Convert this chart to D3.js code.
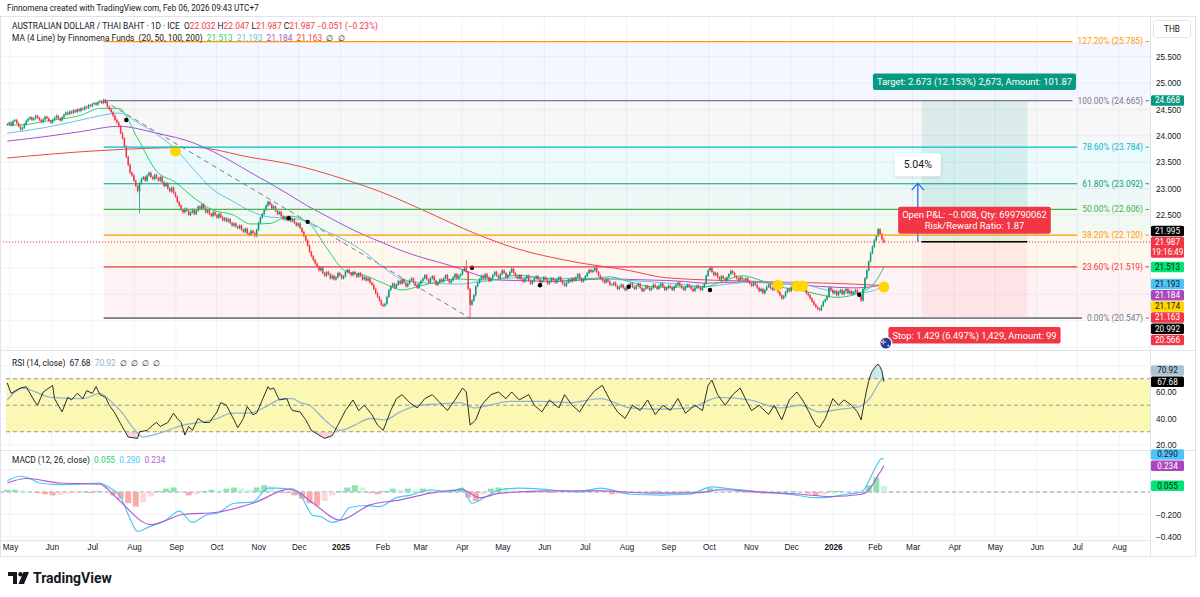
<!DOCTYPE html>
<html>
<head>
<meta charset="utf-8">
<script src="https://cdn.jsdelivr.net/npm/d3@7"></script>
<style>
  body { margin: 0; background: #fff; }
  svg { display: block; font-family: Roboto, 'Liberation Sans', sans-serif; }
</style>
</head>
<body>
<svg id="chart" width="1200" height="597"></svg>
<script>
// daily closes, one per trading day from Mon 29 Apr 2024 (bar 0) to Fri 6 Feb 2026 (bar 464)
const closes1 = [
  24.22, 24.25, 24.20, 24.28, 24.30, 24.24, 24.18, 24.12, 24.15, 24.22,
  24.28, 24.32, 24.35, 24.30, 24.33, 24.38, 24.34, 24.30, 24.26, 24.31,
  24.36, 24.33, 24.28, 24.25, 24.30, 24.34, 24.38, 24.33, 24.29, 24.35,
  24.40, 24.44, 24.41, 24.46, 24.43, 24.48, 24.45, 24.50, 24.47, 24.52,
  24.50, 24.55, 24.53, 24.58, 24.56, 24.60, 24.62, 24.59, 24.64, 24.66,
  24.62, 24.68, 24.63, 24.55, 24.50, 24.45, 24.38, 24.30, 24.25, 24.18,
  24.05, 23.95, 23.80, 23.60, 23.45, 23.30, 23.25, 23.15, 23.05, 22.95,
  23.10, 23.18, 23.22, 23.15, 23.25, 23.30, 23.22, 23.18, 23.26, 23.20,
  23.15, 23.22, 23.12, 23.05, 23.10, 23.00, 22.95, 23.02, 22.92, 22.85,
  22.75, 22.68, 22.60, 22.55, 22.62, 22.58, 22.50, 22.55, 22.60, 22.52,
  22.58, 22.66, 22.62, 22.70, 22.63, 22.55, 22.60, 22.52, 22.48, 22.55,
  22.50, 22.45, 22.52, 22.46, 22.40, 22.44, 22.38, 22.42, 22.35, 22.30,
  22.34, 22.28, 22.25, 22.30, 22.22, 22.18, 22.24, 22.15, 22.12, 22.20,
  22.16, 22.10, 22.22, 22.35, 22.45, 22.52, 22.60, 22.68, 22.75, 22.70,
  22.62, 22.66, 22.58, 22.52, 22.56, 22.48, 22.42, 22.46, 22.40, 22.45
]
const closes2 = [
  22.38, 22.42, 22.35, 22.30, 22.34, 22.25, 22.18, 22.10, 22.02, 21.92,
  21.80, 21.72, 21.65, 21.58, 21.52, 21.45, 21.50, 21.40, 21.35, 21.42,
  21.38, 21.30, 21.35, 21.28, 21.32, 21.40, 21.36, 21.30, 21.34, 21.42,
  21.46, 21.40, 21.36, 21.42, 21.38, 21.33, 21.40, 21.35, 21.28, 21.32,
  21.26, 21.30, 21.22, 21.18, 21.10, 21.02, 20.95, 20.88, 20.80, 20.78,
  20.82, 20.95, 21.08, 21.15, 21.20, 21.12, 21.18, 21.25, 21.20, 21.28,
  21.22, 21.15, 21.20, 21.26, 21.30, 21.22, 21.18, 21.12, 21.20, 21.25,
  21.30, 21.36, 21.28, 21.22, 21.30, 21.34, 21.26, 21.18, 21.22, 21.28,
  21.24, 21.30, 21.36, 21.28, 21.22, 21.26, 21.32, 21.38, 21.30, 21.35,
  21.38, 21.45, 21.50, 21.42, 21.10, 20.80, 20.88, 20.98, 21.15, 21.22,
  21.28, 21.35, 21.30, 21.38, 21.32, 21.25, 21.30, 21.36, 21.42, 21.35,
  21.30, 21.38, 21.45, 21.40, 21.32, 21.36, 21.42, 21.48, 21.40, 21.34,
  21.30, 21.36, 21.28, 21.24, 21.30, 21.35, 21.26, 21.20, 21.25, 21.30,
  21.34, 21.28, 21.22, 21.26, 21.32, 21.28, 21.20, 21.24, 21.30, 21.26,
  21.22, 21.28, 21.32, 21.25, 21.20, 21.16, 21.22, 21.28, 21.24, 21.30
]
const closes3 = [
  21.26, 21.32, 21.38, 21.30, 21.24, 21.28, 21.34, 21.40, 21.46, 21.42,
  21.45, 21.50, 21.42, 21.35, 21.30, 21.26, 21.22, 21.28, 21.24, 21.18,
  21.18, 21.22, 21.16, 21.10, 21.14, 21.18, 21.12, 21.08, 21.14, 21.18,
  21.20, 21.14, 21.10, 21.16, 21.20, 21.12, 21.06, 21.10, 21.16, 21.12,
  21.08, 21.12, 21.18, 21.14, 21.10, 21.16, 21.20, 21.14, 21.08, 21.12,
  21.16, 21.12, 21.08, 21.14, 21.18, 21.22, 21.16, 21.12, 21.08, 21.14,
  21.18, 21.14, 21.10, 21.06, 21.12, 21.16, 21.12, 21.08, 21.14, 21.20,
  21.35, 21.45, 21.50, 21.42, 21.36, 21.40, 21.32, 21.28, 21.34, 21.30,
  21.26, 21.32, 21.38, 21.44, 21.40, 21.34, 21.30, 21.26, 21.32, 21.28,
  21.26, 21.30, 21.24, 21.20, 21.16, 21.22, 21.18, 21.12, 21.06, 21.10,
  21.02, 21.08, 21.14, 21.18, 21.12, 21.08, 21.14, 21.10, 21.04, 20.98,
  20.92, 20.96, 21.04, 21.10, 21.06, 21.14, 21.20, 21.12, 21.16, 21.08,
  21.12, 21.18, 21.10, 21.02, 20.98, 20.92, 20.86, 20.80, 20.76, 20.72,
  20.70, 20.78, 20.86, 20.90, 20.96, 21.12, 21.08, 21.02, 21.06, 20.98,
  21.04, 21.08, 21.00, 21.06, 21.10, 21.02, 21.06, 21.00, 21.04, 21.08,
  21.02, 20.96, 20.88, 21.10, 21.30, 21.45, 21.62, 21.78, 21.90, 22.02,
  22.10, 22.23, 22.14, 22.04, 21.987
]
const lastBar = { open: 22.032, high: 22.047, low: 21.987, close: 21.987 }
// [bar, price] of the long wicks
const wickExtremes = [[70, 22.55], [243, 21.62], [245, 20.547]]

// moving averages, [bar, value]
const ma20Points = [[0, 24.20], [9, 24.21], [19, 24.27], [29, 24.32], [39, 24.39], [49, 24.52], [59, 24.52], [69, 23.95], [79, 23.33], [89, 23.12], [99, 22.82], [109, 22.59], [119, 22.51], [129, 22.33], [139, 22.34], [149, 22.48], [159, 22.37], [169, 21.88], [179, 21.44], [189, 21.36], [199, 21.21], [209, 21.08], [219, 21.16], [229, 21.24], [239, 21.29], [249, 21.27], [259, 21.28], [269, 21.36], [279, 21.33], [289, 21.28], [299, 21.26], [309, 21.29], [319, 21.33], [329, 21.24], [339, 21.15], [349, 21.13], [359, 21.14], [369, 21.14], [379, 21.25], [389, 21.35], [399, 21.26], [409, 21.14], [419, 21.08], [429, 21.00], [439, 20.94], [449, 21.00], [459, 21.21], [464, 21.513]]
const ma50Points = [[0, 24.05], [19, 24.15], [39, 24.30], [49, 24.38], [59, 24.43], [69, 24.25], [79, 24.03], [89, 23.75], [99, 23.35], [109, 22.98], [119, 22.77], [129, 22.57], [139, 22.46], [149, 22.44], [159, 22.37], [169, 22.19], [179, 22.02], [189, 21.80], [199, 21.51], [209, 21.28], [219, 21.22], [229, 21.20], [239, 21.19], [249, 21.23], [259, 21.27], [269, 21.31], [279, 21.31], [289, 21.30], [299, 21.30], [309, 21.30], [319, 21.29], [329, 21.26], [339, 21.24], [349, 21.21], [359, 21.18], [369, 21.14], [379, 21.18], [389, 21.22], [399, 21.23], [409, 21.22], [419, 21.21], [429, 21.12], [439, 21.04], [449, 21.02], [459, 21.07], [464, 21.193]]
const ma100Points = [[0, 23.90], [19, 23.98], [39, 24.08], [59, 24.18], [79, 24.05], [99, 23.86], [109, 23.70], [119, 23.51], [129, 23.30], [139, 23.10], [149, 22.89], [159, 22.67], [169, 22.48], [179, 22.29], [189, 22.12], [199, 21.97], [209, 21.82], [219, 21.70], [229, 21.60], [239, 21.49], [249, 21.36], [259, 21.27], [269, 21.26], [279, 21.25], [289, 21.24], [299, 21.26], [309, 21.28], [319, 21.29], [329, 21.28], [339, 21.27], [349, 21.26], [359, 21.24], [369, 21.21], [379, 21.22], [389, 21.23], [399, 21.22], [409, 21.20], [419, 21.18], [429, 21.15], [439, 21.13], [449, 21.12], [459, 21.15], [464, 21.184]]
const ma200Points = [[0, 23.58], [49, 23.72], [99, 23.78], [129, 23.59], [149, 23.47], [179, 23.17], [199, 22.92], [219, 22.61], [249, 22.13], [269, 21.87], [299, 21.62], [329, 21.45], [349, 21.31], [399, 21.24], [449, 21.19], [464, 21.163]]
const maColors = ['#1fd36a', '#5ec4ef', '#a652cf', '#f0463c']
const maLegend = [21.513, 21.193, 21.184, 21.163]

const blackDots = [[63, 24.30], [149, 22.44], [159, 22.37], [246, 21.50], [282, 21.17], [329, 21.14], [372, 21.08], [451, 20.99]]
const yellowDots = [[89, 23.71], [408, 21.17], [418, 21.155], [421, 21.155], [464, 21.136]]

// fibonacci retracement
const fibStartBar = 51
const fibLevels = [1.272, 1, 0.786, 0.618, 0.5, 0.382, 0.236, 0]
const fibPrices = [25.785, 24.665, 23.784, 23.092, 22.606, 22.120, 21.519, 20.547]
const fibColors = ['#ff9800', '#787b86', '#00bcd4', '#089981', '#4caf50', '#ff9800', '#f23645', '#787b86']
const fibFills = ['rgba(41,98,255,0.05)', 'rgba(120,123,134,0.06)', 'rgba(0,188,212,0.07)', 'rgba(8,153,129,0.07)', 'rgba(76,175,80,0.07)', 'rgba(255,152,0,0.07)', 'rgba(242,54,69,0.06)']
const trendLine = [[51, 24.665], [245, 20.547]]

// long position tool
const position = { startBar: 484, endBar: 540, entry: 21.995, target: 24.668, stop: 20.566 }
const projection = { bar: 482, from: 21.995, to: 23.103, text: '5.04%' }
const targetText = 'Target: 2.673 (12.153%) 2,673, Amount: 101.87'
const stopText = 'Stop: 1.429 (6.497%) 1,429, Amount: 99'
const pnlText = ['Open P&L: −0.008, Qty: 699790062', 'Risk/Reward Ratio: 1.87']

// RSI [bar, value]
const rsiPoints = [[0, 66.8], [2, 59], [7, 63], [10, 64], [14, 54], [16, 50], [19, 60], [24, 65], [25, 55], [29, 45], [32, 56], [34, 54], [37, 59], [40, 55], [42, 61], [45, 59], [47, 64], [49, 58], [52, 56], [54, 50], [57, 44], [60, 36], [62, 31], [64, 26], [69, 25], [70, 30], [74, 31], [77, 35], [79, 37], [81, 34], [85, 37], [88, 44], [90, 40], [92, 37], [94, 27.5], [96, 34], [98, 31], [101, 40], [104, 37], [107, 37], [111, 45], [113, 52], [116, 50], [120, 39], [122, 33], [125, 40], [127, 49], [130, 43], [132, 44], [135, 54], [138, 64], [139, 62], [141, 63], [144, 54], [148, 55], [150, 48], [151, 46], [155, 45], [158, 39], [161, 31], [165, 27.5], [168, 25], [172, 27], [175, 35], [179, 46], [183, 54], [186, 46], [189, 50], [193, 43], [196, 35], [199, 31], [203, 46], [206, 55], [209, 58], [213, 52], [217, 48], [221, 55], [225, 58], [229, 52], [233, 46], [237, 54], [241, 63], [243, 60], [245, 35], [248, 39], [251, 50], [256, 58], [260, 60], [264, 55], [267, 60], [271, 54], [276, 58], [279, 50], [283, 45], [287, 54], [292, 48], [295, 58], [299, 50], [303, 45], [307, 54], [311, 61], [315, 65], [319, 54], [323, 45], [327, 40], [331, 50], [335, 46], [339, 54], [343, 43], [347, 50], [351, 46], [355, 55], [359, 44], [364, 50], [368, 46], [371, 65], [373, 69], [376, 58], [380, 50], [384, 58], [388, 63], [391, 54], [394, 46], [398, 50], [403, 43], [406, 50], [410, 39], [414, 54], [418, 60], [421, 54], [424, 46], [428, 35], [430, 33], [433, 40], [437, 55], [440, 50], [443, 54], [447, 50], [450, 45], [452, 39], [454, 55], [455, 62], [456, 68], [457, 73], [458, 76], [459, 78], [460, 80], [461, 81], [462, 79], [463, 76], [464, 67.68]]
const rsiMaPoints = [[0, 54], [8, 63], [23, 56], [40, 55], [49, 59], [54, 54], [61, 44], [66, 34], [72, 26], [77, 27.5], [85, 31], [93, 35], [102, 37], [111, 40], [119, 44], [128, 44], [137, 49], [146, 55], [151, 55], [155, 52], [160, 50], [168, 39], [176, 31], [184, 35], [192, 40], [200, 39], [208, 45], [218, 50], [229, 51], [240, 52], [247, 48], [255, 50], [266, 53], [282, 53], [298, 52], [314, 55], [330, 48], [345, 47], [361, 48], [377, 56], [393, 54], [409, 48], [420, 50], [430, 45], [441, 47], [451, 49], [457, 56], [462, 68], [464, 70.92]]
const rsiTicks = [20, 40, 60, 80]
const rsiBandLevels = [70, 50, 30]

// MACD [bar, value]
const macdPoints = [[0, 0.10], [7, 0.14], [12, 0.12], [17, 0.08], [28, 0.065], [38, 0.07], [49, 0.08], [54, 0.04], [60, -0.045], [64, -0.20], [69, -0.35], [75, -0.31], [84, -0.25], [91, -0.17], [98, -0.27], [106, -0.20], [111, -0.19], [120, -0.10], [130, -0.09], [138, 0.035], [143, 0.035], [150, 0.02], [155, -0.027], [162, -0.21], [166, -0.22], [172, -0.27], [176, -0.25], [181, -0.14], [190, -0.12], [197, -0.13], [206, -0.05], [213, -0.03], [224, 0.02], [234, 0.0], [241, 0.035], [246, -0.10], [253, -0.045], [261, 0.02], [271, 0.035], [287, 0.02], [303, 0.0], [314, 0.035], [330, -0.02], [346, -0.027], [361, -0.02], [373, 0.045], [383, 0.027], [399, 0.0], [414, -0.02], [428, -0.05], [436, -0.045], [444, -0.02], [452, 0.0], [455, 0.06], [457, 0.13], [459, 0.2], [461, 0.26], [463, 0.3], [464, 0.29]]
const signalPoints = [[0, 0.08], [10, 0.12], [28, 0.08], [49, 0.07], [58, -0.055], [76, -0.29], [93, -0.20], [111, -0.18], [130, -0.10], [150, 0.027], [162, -0.10], [176, -0.25], [192, -0.115], [208, -0.07], [224, -0.01], [241, 0.02], [250, -0.05], [261, -0.01], [287, 0.01], [314, 0.01], [340, -0.01], [367, -0.005], [377, 0.02], [399, 0.0], [420, -0.02], [436, -0.04], [452, -0.02], [455, 0.0], [457, 0.04], [459, 0.09], [461, 0.15], [463, 0.2], [464, 0.234]]
// histogram, one value every 4 bars from bar 0
const histStep = 4
const macdHist = [
  0.02, 0.02, 0.015, 0.005, -0.01, -0.02, -0.03, -0.025, -0.015, -0.01,
  0.005, -0.01, 0.01, 0.005, -0.03, -0.06, -0.10, -0.13, -0.09, -0.04,
  0.01, 0.03, 0.04, 0.01, -0.03, -0.02, 0.01, 0.02, 0.015, 0.03,
  0.04, 0.03, 0.02, 0.04, 0.06, 0.05, 0.02, -0.01, -0.03, -0.06,
  -0.10, -0.12, -0.08, -0.03, 0.01, 0.04, 0.06, 0.04, -0.01, -0.02,
  0.01, 0.03, 0.02, 0.03, 0.02, 0.03, 0.02, 0.01, 0.00, 0.02,
  0.03, -0.05, -0.08, -0.02, 0.03, 0.04, 0.03, 0.02, 0.01, -0.01,
  0.00, 0.01, -0.01, -0.005, 0.01, 0.005, 0.015, 0.025, 0.02, 0.00,
  -0.02, -0.015, -0.01, 0.00, -0.005, 0.005, 0.01, 0.00, -0.005, 0.005,
  0.01, 0.00, 0.01, 0.035, 0.03, 0.01, 0.005, 0.015, -0.005, -0.01,
  -0.015, -0.01, -0.005, 0.005, 0.01, 0.005, -0.015, -0.03, -0.02, 0.01,
  0.01, 0.005, 0.00, -0.005, 0.06, 0.13, 0.055
]
const macdTicks = [-0.4, -0.2, 0, 0.2]
const priceTicks = [20, 20.5, 21, 21.5, 22, 22.5, 23, 23.5, 24, 24.5, 25, 25.5]

const priceBadges = [
  { v: 24.668, fill: '#089981', color: '#fff' },
  { v: 21.995, fill: '#000000', color: '#fff' },
  { v: 21.987, fill: '#f23645', color: '#fff', sub: '19:16:49', anchor: true },
  { v: 21.513, fill: '#00e676', color: '#131722' },
  { v: 21.193, fill: '#4fc3f7', color: '#131722' },
  { v: 21.184, fill: '#ab47bc', color: '#fff' },
  { v: 21.174, fill: '#ffd600', color: '#131722' },
  { v: 21.163, fill: '#f23645', color: '#fff' },
  { v: 20.992, fill: '#000000', color: '#fff' },
  { v: 20.566, fill: '#f23645', color: '#fff' }
]
const rsiBadges = [
  { v: 70.92, fill: '#a9c3d3', color: '#131722' },
  { v: 67.68, fill: '#000000', color: '#fff', anchor: true }
]
const macdBadges = [
  { v: 0.290, fill: '#4fc3f7', color: '#131722' },
  { v: 0.234, fill: '#ab47bc', color: '#fff', anchor: true },
  { v: 0.055, fill: '#00e676', color: '#131722' }
]

// ---------------------------------------------------------------
const closes = closes1.concat(closes2, closes3)
const lastIndex = closes.length - 1

const svg = d3.select('#chart')
const defs = svg.append('defs')
function clip(id, x0, y0, w, h) {
  defs.append('clipPath').attr('id', id)
    .append('rect').attr('x', x0).attr('y', y0).attr('width', w).attr('height', h)
}
clip('clipPrice', 1, 17, 1149, 333)
clip('clipRsi', 1, 351, 1149, 99)
clip('clipMacd', 1, 451, 1149, 89)
clip('clipPlot', 1, 17, 1149, 523)
let shadow = defs.append('filter').attr('id', 'shadow').attr('x', '-30%').attr('y', '-30%').attr('width', '160%').attr('height', '160%')
shadow.append('feDropShadow').attr('dx', 0).attr('dy', 1).attr('stdDeviation', 1.5).attr('flood-color', '#000').attr('flood-opacity', 0.18)

let x = d3.scaleLinear().domain([0, 464]).range([7.3, 883.8])
let xTime = d3.scaleUtc()
  .domain([new Date(Date.UTC(2024, 4, 1)), new Date(Date.UTC(2026, 0, 1))])
  .range([10, 833])
let yPrice = d3.scaleLinear().domain([20, 22.5]).range([347, 215])
let yRsi = d3.scaleLinear().domain([20, 80]).range([445, 365.5])
let yMacd = d3.scaleLinear().domain([-0.4, 0]).range([537, 492])

const months = d3.utcMonths(new Date(Date.UTC(2024, 4, 1)), new Date(Date.UTC(2026, 7, 2)))

// grid
let grid = svg.append('g').attr('clip-path', 'url(#clipPlot)')
grid.selectAll('.vgrid').data(months).enter().append('line')
  .attr('x1', d => xTime(d)).attr('x2', d => xTime(d))
  .attr('y1', 17).attr('y2', 540)
  .attr('stroke', '#f0f3fa')
grid.selectAll('.pgrid').data(priceTicks).enter().append('line')
  .attr('x1', 0).attr('x2', 1150)
  .attr('y1', d => yPrice(d)).attr('y2', d => yPrice(d))
  .attr('stroke', '#f0f3fa')
grid.selectAll('.rgrid').data(rsiTicks).enter().append('line')
  .attr('x1', 0).attr('x2', 1150)
  .attr('y1', d => yRsi(d)).attr('y2', d => yRsi(d))
  .attr('stroke', '#f0f3fa')
grid.selectAll('.mgrid').data(macdTicks).enter().append('line')
  .attr('x1', 0).attr('x2', 1150)
  .attr('y1', d => yMacd(d)).attr('y2', d => yMacd(d))
  .attr('stroke', '#f0f3fa')

// ---------------- price pane
let price = svg.append('g').attr('clip-path', 'url(#clipPrice)')
let fibX0 = x(fibStartBar)

price.selectAll('.fib-band').data(d3.range(fibPrices.length - 1)).enter().append('rect')
  .attr('x', fibX0).attr('width', 1150 - fibX0)
  .attr('y', i => yPrice(fibPrices[i]))
  .attr('height', i => yPrice(fibPrices[i + 1]) - yPrice(fibPrices[i]))
  .attr('fill', i => fibFills[i])

// position boxes
price.append('rect')
  .attr('x', x(position.startBar)).attr('width', x(position.endBar) - x(position.startBar))
  .attr('y', yPrice(position.target)).attr('height', yPrice(position.entry) - yPrice(position.target))
  .attr('fill', 'rgba(8,153,129,0.11)')
price.append('rect')
  .attr('x', x(position.startBar)).attr('width', x(position.endBar) - x(position.startBar))
  .attr('y', yPrice(position.entry)).attr('height', yPrice(position.stop) - yPrice(position.entry))
  .attr('fill', 'rgba(242,54,69,0.07)')

// fib lines and labels
let fibG = svg.append('g')
fibLevels.forEach((lvl, i) => {
  let yy = yPrice(fibPrices[i])
  let label = fibG.append('text')
    .attr('x', 1143).attr('y', yy).attr('dy', '0.35em')
    .attr('text-anchor', 'end')
    .attr('font-size', 8.4)
    .attr('fill', fibColors[i])
    .text(`${(lvl * 100).toFixed(2)}% (${fibPrices[i].toFixed(3)})`)
  let w = label.node().getComputedTextLength()
  fibG.append('line')
    .attr('x1', fibX0).attr('x2', 1143 - w - 5)
    .attr('y1', yy).attr('y2', yy)
    .attr('stroke', fibColors[i]).attr('stroke-width', i === 7 ? 1.6 : 1.2)
  fibG.append('line')
    .attr('x1', 1145.5).attr('x2', 1149)
    .attr('y1', yy).attr('y2', yy)
    .attr('stroke', fibColors[i])
})

// trend line
price.append('line')
  .attr('x1', x(trendLine[0][0])).attr('y1', yPrice(trendLine[0][1]))
  .attr('x2', x(trendLine[1][0])).attr('y2', yPrice(trendLine[1][1]))
  .attr('stroke', '#787b86').attr('stroke-width', 1).attr('stroke-dasharray', '5,4')

// moving averages
let maLine = d3.line().x(d => x(d[0])).y(d => yPrice(d[1])).curve(d3.curveMonotoneX)
;[ma200Points, ma100Points, ma50Points, ma20Points].forEach((pts, k) => {
  price.append('path')
    .datum(pts)
    .attr('d', maLine)
    .attr('fill', 'none')
    .attr('stroke', maColors[3 - k])
    .attr('stroke-width', 1)
})

// candles
let candles = closes.map((c, i) => {
  if (i === lastIndex) return { i, o: lastBar.open, c: lastBar.close, h: lastBar.high, l: lastBar.low }
  let o = i === 0 ? c : closes[i - 1]
  return { i, o, c, h: Math.max(o, c), l: Math.min(o, c) }
})
wickExtremes.forEach(([bar, p]) => {
  candles[bar].h = Math.max(candles[bar].h, p)
  candles[bar].l = Math.min(candles[bar].l, p)
})
let cg = price.append('g')
cg.selectAll('.wick').data(candles).enter().append('line')
  .attr('x1', d => x(d.i)).attr('x2', d => x(d.i))
  .attr('y1', d => yPrice(d.h) - 1.2).attr('y2', d => yPrice(d.l) + 1.2)
  .attr('stroke', d => d.c >= d.o ? '#089981' : '#f23645')
  .attr('stroke-width', 0.8)
cg.selectAll('.body').data(candles).enter().append('rect')
  .attr('x', d => x(d.i) - 0.75).attr('width', 1.5)
  .attr('y', d => yPrice(Math.max(d.o, d.c)))
  .attr('height', d => Math.max(0.8, Math.abs(yPrice(d.o) - yPrice(d.c))))
  .attr('fill', d => d.c >= d.o ? '#089981' : '#f23645')

// markers
price.selectAll('.ydot').data(yellowDots).enter().append('circle')
  .attr('cx', d => x(d[0])).attr('cy', d => yPrice(d[1])).attr('r', 5.5)
  .attr('fill', '#ffd600')
price.selectAll('.bdot').data(blackDots).enter().append('circle')
  .attr('cx', d => x(d[0])).attr('cy', d => yPrice(d[1])).attr('r', 2.2)
  .attr('fill', '#000')

// current price dotted line
price.append('line')
  .attr('x1', 0).attr('x2', 1150)
  .attr('y1', yPrice(lastBar.close)).attr('y2', yPrice(lastBar.close))
  .attr('stroke', '#f23645').attr('stroke-dasharray', '1,2').attr('stroke-width', 1)

// entry line
price.append('line')
  .attr('x1', x(position.startBar)).attr('x2', x(position.endBar))
  .attr('y1', yPrice(position.entry)).attr('y2', yPrice(position.entry))
  .attr('stroke', '#000').attr('stroke-width', 1.5)

// projection arrow
let px = x(projection.bar)
price.append('line')
  .attr('x1', px).attr('x2', px)
  .attr('y1', yPrice(projection.from)).attr('y2', yPrice(projection.to))
  .attr('stroke', '#2962ff').attr('stroke-width', 1.3)
price.append('path')
  .attr('d', `M${px - 6},${yPrice(projection.to) + 7}L${px},${yPrice(projection.to)}L${px + 6},${yPrice(projection.to) + 7}`)
  .attr('fill', 'none').attr('stroke', '#2962ff').attr('stroke-width', 1.3)
price.append('rect')
  .attr('x', px - 23).attr('y', yPrice(projection.to) - 30)
  .attr('width', 46).attr('height', 23).attr('rx', 3)
  .attr('fill', '#fff').attr('filter', 'url(#shadow)')
price.append('text')
  .attr('x', px).attr('y', yPrice(projection.to) - 18.5).attr('dy', '0.35em')
  .attr('text-anchor', 'middle').attr('font-size', 10.5).attr('fill', '#131722')
  .text(projection.text)

// position labels
let pcx = (x(position.startBar) + x(position.endBar)) / 2
function tag(g, cx, top, lines, fill) {
  let tg = g.append('g')
  let rect = tg.append('rect').attr('fill', fill).attr('rx', 2)
  let w = 0
  lines.forEach((t, k) => {
    let tx = tg.append('text')
      .attr('x', cx).attr('y', top + 8.5 + k * 10.5).attr('dy', '0.35em')
      .attr('text-anchor', 'middle').attr('font-size', 9.4).attr('fill', '#fff')
      .text(t)
    w = Math.max(w, tx.node().getComputedTextLength())
  })
  rect.attr('x', cx - w / 2 - 4).attr('width', w + 8)
    .attr('y', top).attr('height', 6 + lines.length * 10.5)
}
tag(svg, pcx, yPrice(position.target) - 27, [targetText], '#089981')
tag(svg, pcx, yPrice(position.stop) + 10, [stopText], '#f23645')
tag(svg, pcx, yPrice(position.entry) - 35, pnlText, '#f23645')

// little AUD flag event icon
let flag = svg.append('g').attr('transform', `translate(${x(lastIndex) + 2},${yPrice(position.stop) + 26})`)
flag.append('circle').attr('r', 6).attr('fill', '#213f99').attr('stroke', '#fff').attr('stroke-width', 1.2)
flag.append('path').attr('d', 'M-5,-1H0M-2.5,-3.5V1.5').attr('stroke', '#fff').attr('stroke-width', 1.2)
flag.append('path').attr('d', 'M-5,-1H0M-2.5,-3.5V1.5').attr('stroke', '#e53935').attr('stroke-width', 0.5)
flag.append('circle').attr('cx', 2.5).attr('cy', 2.5).attr('r', 0.9).attr('fill', '#fff')

// ---------------- RSI pane
let rsi = svg.append('g').attr('clip-path', 'url(#clipRsi)')
rsi.append('rect')
  .attr('x', 6).attr('width', 1144)
  .attr('y', yRsi(70)).attr('height', yRsi(30) - yRsi(70))
  .attr('fill', '#fbf8b3')
rsi.selectAll('.band').data(rsiBandLevels).enter().append('line')
  .attr('x1', 6).attr('x2', 1150)
  .attr('y1', d => yRsi(d)).attr('y2', d => yRsi(d))
  .attr('stroke', '#9598a1').attr('stroke-dasharray', '4,3')
clip('clipOversold', 1, yRsi(30), 1149, 450 - yRsi(30))
clip('clipOverbought', 1, 351, 1149, yRsi(70) - 351)
let rsiArea = level => d3.area().x(d => x(d[0])).y0(yRsi(level)).y1(d => yRsi(d[1]))
rsi.append('path').datum(rsiPoints).attr('d', rsiArea(30))
  .attr('clip-path', 'url(#clipOversold)').attr('fill', 'rgba(242,54,69,0.22)')
rsi.append('path').datum(rsiPoints).attr('d', rsiArea(70))
  .attr('clip-path', 'url(#clipOverbought)').attr('fill', 'rgba(8,153,129,0.2)')
rsi.append('path').datum(rsiMaPoints)
  .attr('d', d3.line().x(d => x(d[0])).y(d => yRsi(d[1])).curve(d3.curveMonotoneX))
  .attr('fill', 'none').attr('stroke', '#93b6cf').attr('stroke-width', 1.3)
rsi.append('path').datum(rsiPoints)
  .attr('d', d3.line().x(d => x(d[0])).y(d => yRsi(d[1])))
  .attr('fill', 'none').attr('stroke', '#131722').attr('stroke-width', 0.9)

// ---------------- MACD pane
let macd = svg.append('g').attr('clip-path', 'url(#clipMacd)')
macd.append('line')
  .attr('x1', 0).attr('x2', 1150)
  .attr('y1', yMacd(0)).attr('y2', yMacd(0))
  .attr('stroke', '#9598a1').attr('stroke-dasharray', '4,3')
macd.selectAll('.hist').data(macdHist).enter().append('rect')
  .attr('x', (d, i) => x(i * histStep) - 3).attr('width', 6)
  .attr('y', d => Math.min(yMacd(d), yMacd(0)))
  .attr('height', d => Math.max(0.5, Math.abs(yMacd(d) - yMacd(0))))
  .attr('fill', (d, i) => {
    let prev = i > 0 ? macdHist[i - 1] : d
    if (d >= 0) return d >= prev ? '#8fe3b3' : '#cdf2dd'
    return d <= prev ? '#f7abab' : '#fcd9d9'
  })
let macdLine = d3.line().x(d => x(d[0])).y(d => yMacd(d[1])).curve(d3.curveMonotoneX)
macd.append('path').datum(macdPoints).attr('d', macdLine)
  .attr('fill', 'none').attr('stroke', '#4cc6f5').attr('stroke-width', 1.2)
macd.append('path').datum(signalPoints).attr('d', macdLine)
  .attr('fill', 'none').attr('stroke', '#b05dd2').attr('stroke-width', 1.2)

// ---------------- frame
let frame = svg.append('g').attr('stroke', '#e0e3eb').attr('fill', 'none')
frame.append('rect').attr('x', 0.5).attr('y', 16.5).attr('width', 1195).attr('height', 540)
frame.append('line').attr('x1', 1150.5).attr('x2', 1150.5).attr('y1', 16).attr('y2', 557)
;[350.5, 450.5].forEach(yy => frame.append('line').attr('x1', 0).attr('x2', 1196).attr('y1', yy).attr('y2', yy))
frame.append('line').attr('x1', 0).attr('x2', 1150).attr('y1', 540.5).attr('y2', 540.5)

// badges on the right scale, returns the occupied [top, bottom] ranges
let badgeG = svg.append('g')
function drawBadges(list, yScale) {
  const h = 10.5, gap = 0.7
  let placed = list.map(d => Object.assign({}, d, { y: yScale(d.v) }))
  let a = placed.find(d => d.anchor)
  let top = a.y - h / 2
  let bottom = a.y - h / 2 + (a.sub ? 2 * h : h)
  placed.filter(d => !d.anchor && d.v > a.v).sort((p, q) => p.v - q.v).forEach(d => {
    d.y = Math.min(d.y, top - gap - h / 2)
    top = d.y - h / 2
  })
  placed.filter(d => !d.anchor && d.v <= a.v).sort((p, q) => q.v - p.v).forEach(d => {
    d.y = Math.max(d.y, bottom + gap + h / 2)
    bottom = d.y + h / 2
  })
  let digits = list[0].v > 30 ? 2 : 3
  placed.forEach(d => {
    badgeG.append('rect')
      .attr('x', 1151).attr('width', 33)
      .attr('y', d.y - h / 2).attr('height', d.sub ? 2 * h : h)
      .attr('rx', 1.5).attr('fill', d.fill)
    badgeG.append('text')
      .attr('x', 1167.5).attr('y', d.y).attr('dy', '0.35em')
      .attr('text-anchor', 'middle').attr('font-size', 8.2).attr('fill', d.color)
      .text(d.v.toFixed(digits))
    if (d.sub) {
      badgeG.append('text')
        .attr('x', 1167.5).attr('y', d.y + h).attr('dy', '0.35em')
        .attr('text-anchor', 'middle').attr('font-size', 8.2).attr('fill', d.color)
        .text(d.sub)
    }
  })
  return placed.map(d => [d.y - h / 2, d.y - h / 2 + (d.sub ? 2 * h : h)])
}
let taken = []
  .concat(drawBadges(priceBadges, yPrice))
  .concat(drawBadges(rsiBadges, yRsi))
  .concat(drawBadges(macdBadges, yMacd))
let free = scale => v => !taken.some(([t, b]) => scale(v) + 3 > t && scale(v) - 3 < b)

// ---------------- axes
function axisText(sel) {
  sel.select('.domain').remove()
  sel.selectAll('text').attr('font-size', 8.2).attr('fill', '#131722').attr('font-family', null)
}
svg.append('g').attr('transform', 'translate(1150,0)')
  .call(d3.axisRight(yPrice).tickValues(priceTicks.filter(free(yPrice))).tickFormat(d3.format('.3f')).tickSize(0).tickPadding(6))
  .call(axisText)
svg.append('g').attr('transform', 'translate(1150,0)')
  .call(d3.axisRight(yRsi).tickValues(rsiTicks.filter(free(yRsi))).tickFormat(d3.format('.2f')).tickSize(0).tickPadding(6))
  .call(axisText)
svg.append('g').attr('transform', 'translate(1150,0)')
  .call(d3.axisRight(yMacd).tickValues(macdTicks.filter(free(yMacd))).tickFormat(d3.format('.3f')).tickSize(0).tickPadding(6))
  .call(axisText)
let xAxis = svg.append('g').attr('transform', 'translate(0,541)')
  .call(d3.axisBottom(xTime).tickValues(months)
    .tickFormat(d => d.getUTCMonth() === 0 ? String(d.getUTCFullYear()) : d3.utcFormat('%b')(d))
    .tickSize(0).tickPadding(3))
  .call(axisText)
xAxis.selectAll('text').attr('font-weight', d => d.getUTCMonth() === 0 ? 600 : null)
badgeG.raise()

// THB box
svg.append('rect').attr('x', 1153.5).attr('y', 20.5).attr('width', 37).attr('height', 17).attr('rx', 3)
  .attr('fill', '#fff').attr('stroke', '#e0e3eb')
svg.append('text').attr('x', 1172).attr('y', 29).attr('dy', '0.35em').attr('text-anchor', 'middle')
  .attr('font-size', 8.2).attr('fill', '#131722').text('THB')

// ---------------- header and legends
svg.append('text').attr('x', 7).attr('y', 8.5).attr('dy', '0.35em')
  .attr('font-size', 8.2).attr('fill', '#131722')
  .text('Finnomena created with TradingView.com, Feb 06, 2026 09:43 UTC+7')

function legend(yy, parts) {
  let t = svg.append('text').attr('x', 12).attr('y', yy).attr('dy', '0.35em')
    .attr('font-size', 8.4).attr('xml:space', 'preserve')
  parts.forEach(([s, c]) => t.append('tspan').attr('fill', c).text(s))
}
const red = '#f23645', ink = '#131722'
legend(26, [['AUSTRALIAN DOLLAR / THAI BAHT · 1D · ICE  ', ink],
  ['O', ink], [lastBar.open.toFixed(3), red], [' H', ink], [lastBar.high.toFixed(3), red],
  [' L', ink], [lastBar.low.toFixed(3), red], [' C', ink], [lastBar.close.toFixed(3), red],
  [' −0.051 (−0.23%)', red]])
legend(38.5, [['MA (4 Line) by Finnomena Funds  (20, 50, 100, 200)  ', ink]]
  .concat(maLegend.map((v, i) => [v.toFixed(3) + '  ', maColors[i]]))
  .concat([['∅  ∅', ink]]))
legend(363, [['RSI (14, close)  ', ink], ['67.68  ', ink], ['70.92  ', '#8fb2c9'], ['∅  ∅  ∅  ∅', ink]])
legend(460, [['MACD (12, 26, close)  ', ink], ['0.055  ', '#1fd36a'], ['0.290  ', '#4cc6f5'], ['0.234', '#b05dd2']])

// ---------------- TradingView logo
let logo = svg.append('g').attr('fill', '#131722')
logo.append('path').attr('d', 'M8,572H17V584H13V576H8Z')
logo.append('circle').attr('cx', 20.5).attr('cy', 574.2).attr('r', 2.2)
logo.append('path').attr('d', 'M23.5,572H29L24,584H18.5Z')
svg.append('text').attr('x', 33).attr('y', 578).attr('dy', '0.35em')
  .attr('font-size', 14).attr('font-weight', 700).attr('fill', '#131722')
  .text('TradingView')
</script>
</body>
</html>
